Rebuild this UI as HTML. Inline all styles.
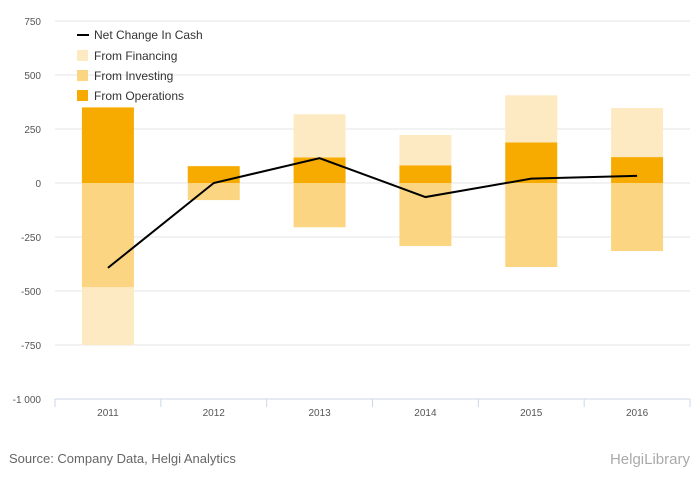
<!DOCTYPE html>
<html><head><meta charset="utf-8"><style>
body{margin:0;background:#fff;font-family:"Liberation Sans",sans-serif;}
svg text{font-family:"Liberation Sans",sans-serif;}
</style></head><body>
<svg width="700" height="483" id="chart">
<g id="grid"></g>
<g id="bars"></g>
<g id="xaxis"></g>
<g id="line"></g>
<g font-size="12" fill="#333">
<g><line x1="77" y1="35" x2="89" y2="35" stroke="#000" stroke-width="2"/><text x="94" y="39">Net Change In Cash</text></g>
<g><rect x="77" y="50" width="11" height="11" fill="#feeac2"/><text x="94" y="60">From Financing</text></g>
<g><rect x="77" y="70" width="11" height="11" fill="#fcd583"/><text x="94" y="80">From Investing</text></g>
<g><rect x="77" y="90" width="11" height="11" fill="#f7ab00"/><text x="94" y="100">From Operations</text></g>
</g>
<text x="9" y="463" font-size="13" fill="#666">Source: Company Data, Helgi Analytics</text>
<text x="690" y="464" font-size="15" fill="#aaa" text-anchor="end">HelgiLibrary</text>
</svg>
<script>
const categories=["2011","2012","2013","2014","2015","2016"];
const operations=[350,78,118,82,188,120];
const investing=[-483,-79,-205,-292,-389,-315];
const financing=[-267,0,200,140,218,227];
const netChange=[-393,0,115,-65,20,33];
const yTicks=[750,500,250,0,-250,-500,-750,-1000];
const tickLabels=["750","500","250","0","-250","-500","-750","-1 000"];
const NS="http://www.w3.org/2000/svg";
const x0=55,x1=690,yZero=183,pxPer=54/250;
const y=v=>yZero-v*pxPer;
const band=(x1-x0)/categories.length;
const xc=i=>x0+band*(i+0.5);
function mk(tag,attrs,parent){const e=document.createElementNS(NS,tag);for(const k in attrs)e.setAttribute(k,attrs[k]);parent.appendChild(e);return e;}
const grid=document.getElementById('grid');
yTicks.forEach((t,i)=>{
 const l=mk('line',{x1:x0,x2:x1,y1:y(t),y2:y(t),stroke:t===-1000?'#ccc':'#e6e6e6'},grid);
 
 
 const tx=mk('text',{x:41,y:y(t)+4,'text-anchor':'end','font-size':'10',fill:'#555'},grid);
 tx.textContent=tickLabels[i];
 
 
});
const bars=document.getElementById('bars'),xa=document.getElementById('xaxis');
const bw=52;
categories.forEach((c,i)=>{
 let pos=0,neg=0;
 [[operations[i],'#f7ab00','bar-operations'],[investing[i],'#fcd583','bar-investing'],[financing[i],'#feeac2','bar-financing']].forEach(([v,col,name])=>{
  let a,b;
  if(v>=0){a=pos;b=pos+v;pos=b;}else{a=neg;b=neg+v;neg=b;}
  const top=Math.min(y(a),y(b)),h=Math.abs(y(a)-y(b));
  const r=mk('rect',{x:xc(i)-bw/2,y:top,width:bw,height:h,fill:col},bars);
  
  
 });
 const t=mk('text',{x:xc(i),y:416,'text-anchor':'middle','font-size':'10',fill:'#555'},xa);
 t.textContent=c;
 
 
});
for(let i=0;i<=categories.length;i++){
 const tk=mk('line',{x1:x0+band*i,x2:x0+band*i,y1:399,y2:407,stroke:'#ccd6eb'},xa);
 
 
}
const ax=mk('line',{x1:x0,x2:x1,y1:399,y2:399,stroke:'#ccd6eb'},xa);


const pl=mk('polyline',{points:netChange.map((v,i)=>xc(i)+','+y(v)).join(' '),fill:'none',stroke:'#000','stroke-width':2},document.getElementById('line'));


</script>
</body></html>
